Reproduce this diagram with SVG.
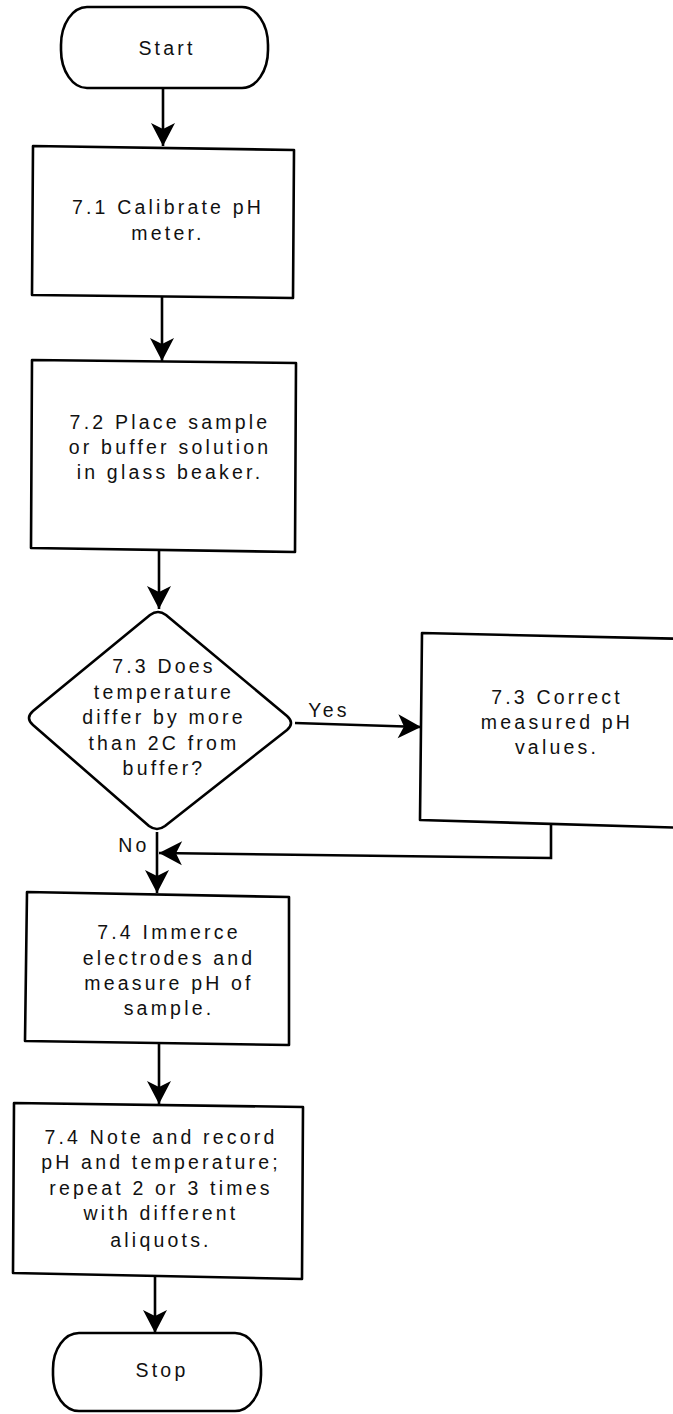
<svg xmlns="http://www.w3.org/2000/svg" width="673" height="1414" viewBox="0 0 673 1414">
<style>
.shape{fill:#fff;stroke:#000;stroke-width:2.6;stroke-linejoin:round}
.t{font-family:"Liberation Sans",Arial,sans-serif;font-size:19.5px;letter-spacing:3.2px;fill:#111;text-anchor:middle}
.c{fill:none;stroke:#000;stroke-width:2.6}
</style>
<defs>
<marker id="ah" viewBox="-25 -13 27 26" refX="0" refY="0" markerWidth="27" markerHeight="26" markerUnits="userSpaceOnUse" orient="auto">
<path d="M0,0 L-23,-12 L-17,0 L-23,12 Z" fill="#000"/>
</marker>
</defs>
<rect width="673" height="1414" fill="#fff"/>
<g id="start">
<rect class="shape" x="61" y="7" width="207" height="81" rx="26" ry="38"/>
<text class="t" x="167" y="55">Start</text>
</g>
<g id="n71">
<polygon class="shape" points="33,146 294,150 293,298 32,295"/>
<text class="t" x="168" y="214">7.1 Calibrate pH</text>
<text class="t" x="168" y="240">meter.</text>
</g>
<g id="n72">
<polygon class="shape" points="32,360 296,363 295,552 31,548"/>
<text class="t" x="170" y="429">7.2 Place sample</text>
<text class="t" x="170" y="454">or buffer solution</text>
<text class="t" x="170" y="479">in glass beaker.</text>
</g>
<g id="d73">
<path class="shape" d="M150,615 Q158,609 166,615 L287,716 Q295,723 287,730 L165,826 Q157,832 149,826 L33,725 Q25,718 33,711 Z"/>
<text class="t" x="164" y="673">7.3 Does</text>
<text class="t" x="164" y="699">temperature</text>
<text class="t" x="164" y="724">differ by more</text>
<text class="t" x="164" y="750">than 2C from</text>
<text class="t" x="164" y="775">buffer?</text>
</g>
<g id="n73b">
<polygon class="shape" points="422,633 690,639 690,828 420,820"/>
<text class="t" x="557" y="704">7.3 Correct</text>
<text class="t" x="557" y="729">measured pH</text>
<text class="t" x="557" y="754">values.</text>
</g>
<g id="n74">
<polygon class="shape" points="27,892 289,897 289,1045 25,1041"/>
<text class="t" x="169" y="939">7.4 Immerce</text>
<text class="t" x="169" y="965">electrodes and</text>
<text class="t" x="169" y="990">measure pH of</text>
<text class="t" x="169" y="1015">sample.</text>
</g>
<g id="n74b">
<polygon class="shape" points="14,1103 303,1107 302,1279 13,1273"/>
<text class="t" x="161" y="1144">7.4 Note and record</text>
<text class="t" x="161" y="1169">pH and temperature;</text>
<text class="t" x="161" y="1195">repeat 2 or 3 times</text>
<text class="t" x="161" y="1220">with different</text>
<text class="t" x="161" y="1247">aliquots.</text>
</g>
<g id="stop">
<rect class="shape" x="53" y="1333" width="208" height="78" rx="26" ry="36"/>
<text class="t" x="162" y="1377">Stop</text>
</g>
<g id="connectors">
<line class="c" x1="163" y1="88" x2="163" y2="146" marker-end="url(#ah)"/>
<line class="c" x1="162" y1="297" x2="162" y2="361" marker-end="url(#ah)"/>
<line class="c" x1="159" y1="550" x2="159" y2="609" marker-end="url(#ah)"/>
<line class="c" x1="295" y1="723" x2="421" y2="727" marker-end="url(#ah)"/>
<line class="c" x1="157" y1="832" x2="157" y2="893" marker-end="url(#ah)"/>
<polyline class="c" points="551,823 551,858 159,853" marker-end="url(#ah)"/>
<line class="c" x1="159" y1="1043" x2="159" y2="1104" marker-end="url(#ah)"/>
<line class="c" x1="155" y1="1277" x2="155" y2="1333" marker-end="url(#ah)"/>
<text class="t" x="329" y="717">Yes</text>
<text class="t" x="134" y="852">No</text>
</g>
</svg>
